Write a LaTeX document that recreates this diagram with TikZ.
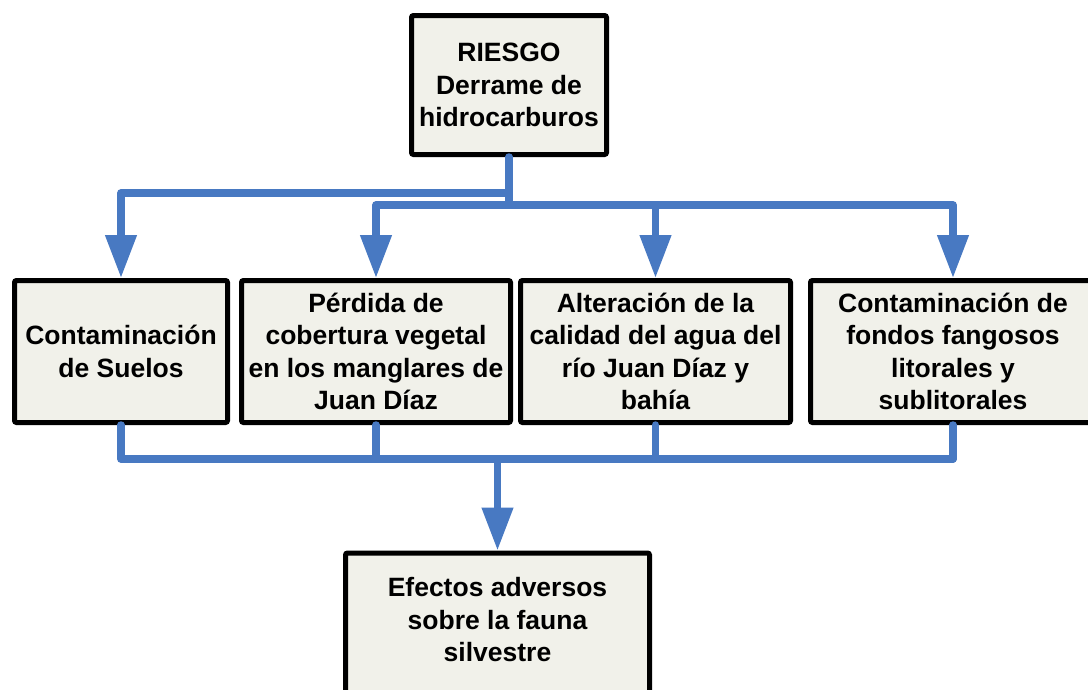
\documentclass[tikz,border=0pt]{standalone}
\usepackage{fontspec}
\setmainfont{Liberation Sans}
\usetikzlibrary{arrows.meta}
\definecolor{boxfill}{RGB}{241,241,234}
\definecolor{connblue}{RGB}{72,121,194}
\begin{document}
\begin{tikzpicture}[x=1pt,y=-1pt,
  boxtext/.style={align=center,inner sep=0pt,font=\bfseries\fontsize{26.5}{32.5}\selectfont},
  box/.style={boxtext,draw=black,line width=5pt,fill=boxfill,rounded corners=2pt,inner sep=2pt},
  conn/.style={draw=connblue,line width=7.5pt,line join=round,line cap=round},
  arr/.style={conn,-{Triangle[width=30pt,length=43pt]}}]
\useasboundingbox (0,0) rectangle (1088,689);
\clip (0,0) rectangle (1088,689);
\fill[white] (0,0) rectangle (1088,689);

\node[box,minimum width=195pt,minimum height=139pt] (top) at (509,85) {RIESGO\\Derrame de\\hidrocarburos};

\node[box,minimum width=213pt,minimum height=142pt] (b1) at (121,351.5) {Contaminación\\de Suelos};
\node[box,minimum width=269pt,minimum height=142pt] (b2) at (376,351.5) {Pérdida de\\cobertura vegetal\\en los manglares de\\Juan Díaz};
\node[box,minimum width=270pt,minimum height=142pt] (b3) at (655.5,351.5) {Alteración de la\\calidad del agua del\\río Juan Díaz y\\bahía};
\node[box,minimum width=285pt,minimum height=142pt] (b4) at (953,351.5) {Contaminación de\\fondos fangosos\\litorales y\\sublitorales};

\node[box,minimum width=304pt,minimum height=180pt,anchor=north] (bot) at (497.5,550.5) {};
\node[boxtext] (bottext) at (497.5,620) {Efectos adversos\\sobre la fauna\\silvestre};

\coordinate (h1) at (0,193);
\coordinate (h2) at (0,205);
\coordinate (h3) at (0,459);

\draw[conn] (top.south) -- (top.south |- h2);
\draw[arr] (top.south |- h1) -| (b1.north);
\draw[arr] (top.south |- h2) -| (b2.north);
\draw[arr] (top.south |- h2) -| (b4.north);
\draw[arr] (b3.north |- h2) -- (b3.north);

\draw[conn] (b1.south) |- (b4.south |- h3);
\draw[conn] (b4.south) -- (b4.south |- h3);
\draw[conn] (b2.south) -- (b2.south |- h3);
\draw[conn] (b3.south) -- (b3.south |- h3);
\draw[arr] (bot.north |- h3) -- (bot.north);
\end{tikzpicture}
\end{document}
